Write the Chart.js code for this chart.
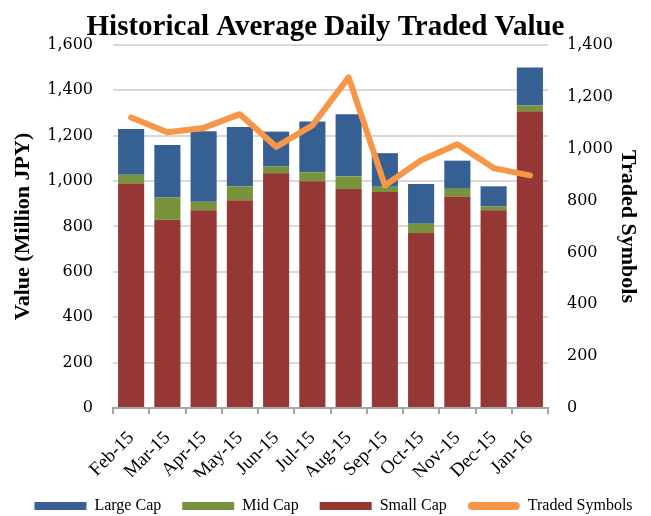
<!DOCTYPE html>
<html>
<head>
<meta charset="utf-8">
<script src="https://cdn.jsdelivr.net/npm/chart.js@4"></script>
<style>
  html, body { margin: 0; padding: 0; background: #fff; }
  #wrap { width: 651px; height: 516px; }
</style>
</head>
<body>
<div id="wrap"><canvas id="tradedChart" width="651" height="516"></canvas></div>
<script>
var months = ["Feb-15", "Mar-15", "Apr-15", "May-15", "Jun-15", "Jul-15", "Aug-15", "Sep-15", "Oct-15", "Nov-15", "Dec-15", "Jan-16"];
var smallCap = [989, 829, 871, 916, 1034, 999, 965, 952, 771, 932, 871, 1308];
var midCap = [39, 99, 38, 61, 30, 40, 56, 23, 41, 34, 17, 25];
var largeCap = [201, 231, 311, 261, 154, 224, 274, 148, 175, 124, 89, 168];
var tradedSymbols = [1120, 1063, 1080, 1133, 1007, 1090, 1275, 858, 955, 1017, 925, 897];

var serif = "'Liberation Serif', 'Times New Roman', serif";
var numSerif = "'DejaVu Serif', serif";
var legendRank = { "Large Cap": 0, "Mid Cap": 1, "Small Cap": 2, "Traded Symbols": 3 };

// nudge the legend row so it sits where the original one does
var legendShift = {
    id: "legendShift",
    afterLayout: function(chart) {
        chart.legend.left += 8;
        chart.legend.right += 8;
    }
};

var ctx = document.getElementById("tradedChart").getContext("2d");
var tradedChart = new Chart(ctx, {
    type: "bar",
    data: {
        labels: months,
        datasets: [
            { label: "Small Cap", data: smallCap, backgroundColor: "#953735", yAxisID: "y", order: 1 },
            { label: "Mid Cap", data: midCap, backgroundColor: "#77933c", yAxisID: "y", order: 1 },
            { label: "Large Cap", data: largeCap, backgroundColor: "#376092", yAxisID: "y", order: 1 },
            {
                type: "line", label: "Traded Symbols", data: tradedSymbols, yAxisID: "y1", order: 0,
                borderColor: "#f79646", backgroundColor: "#f79646", borderWidth: 6,
                pointRadius: 0, tension: 0, borderJoinStyle: "round", borderCapStyle: "round"
            }
        ]
    },
    plugins: [legendShift],
    options: {
        responsive: false,
        animation: false,
        layout: { padding: { left: 0, right: 0, top: 0, bottom: -8 } },
        datasets: { bar: { barPercentage: 0.72, categoryPercentage: 1 } },
        plugins: {
            title: {
                display: true,
                text: "Historical Average Daily Traded Value",
                color: "#000",
                font: { family: serif, size: 29, weight: "bold", lineHeight: 1.17 },
                padding: { top: 11, bottom: 0 }
            },
            legend: {
                position: "bottom",
                labels: {
                    color: "#000",
                    font: { family: serif, size: 16 },
                    boxWidth: 52,
                    boxHeight: 8,
                    padding: 21,
                    useBorderRadius: true,
                    generateLabels: function(chart) {
                        var items = Chart.defaults.plugins.legend.labels.generateLabels(chart);
                        items.forEach(function(it) {
                            it.lineWidth = 0;
                            it.borderRadius = it.text === "Traded Symbols" ? 4 : 0;
                        });
                        return items;
                    },
                    sort: function(a, b) { return legendRank[a.text] - legendRank[b.text]; }
                }
            },
            tooltip: { enabled: false }
        },
        scales: {
            x: {
                stacked: true,
                afterFit: function(scale) { scale.height = 69; },
                grid: { display: true, drawOnChartArea: false, drawTicks: true, tickLength: 6, color: "#a6a6a6", lineWidth: 2 },
                border: { color: "#a6a6a6", width: 2 },
                ticks: {
                    color: "#000", font: { family: serif, size: 19 },
                    maxRotation: 45, minRotation: 45, autoSkip: false, padding: 13
                }
            },
            y: {
                stacked: true,
                position: "left",
                min: 0, max: 1600,
                afterFit: function(scale) { scale.width = 113; },
                ticks: {
                    stepSize: 200, color: "#000", padding: 20,
                    font: { family: numSerif, size: 16 },
                    callback: function(v) { return v.toLocaleString("en-US"); }
                },
                grid: { color: "#d9d9d9", lineWidth: 2, drawTicks: false },
                border: { display: false },
                title: {
                    display: true, text: "Value (Million JPY)", color: "#000", padding: { top: 10, bottom: 4 },
                    font: { family: serif, size: 22, weight: "bold" }
                }
            },
            y1: {
                position: "right",
                min: 0, max: 1400,
                afterFit: function(scale) { scale.width = 103; },
                ticks: {
                    stepSize: 200, color: "#000", padding: 19,
                    font: { family: numSerif, size: 16 },
                    callback: function(v) { return v.toLocaleString("en-US"); }
                },
                grid: { display: false, drawTicks: false },
                border: { display: false },
                title: {
                    display: true, text: "Traded Symbols", color: "#000", padding: { top: 10, bottom: 2 },
                    font: { family: serif, size: 22, weight: "bold" }
                }
            }
        }
    }
});
</script>
</body>
</html>
